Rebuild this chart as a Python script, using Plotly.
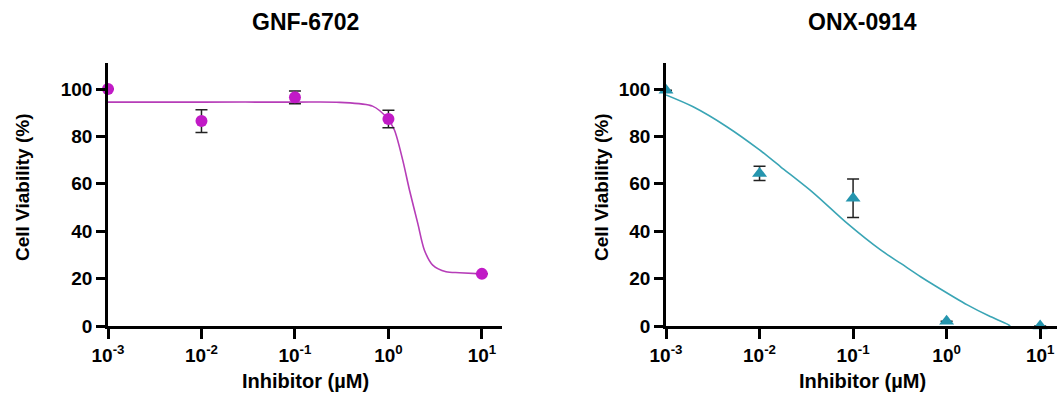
import plotly.graph_objects as go

# ---- data ----
conc = [0.001, 0.01, 0.1, 1, 10]
tick_text = ["10<sup>-3</sup>", "10<sup>-2</sup>", "10<sup>-1</sup>", "10<sup>0</sup>", "10<sup>1</sup>"]
y_ticks = [0, 20, 40, 60, 80, 100]

gnf_mean = [100, 86.5, 96.5, 87.4, 22.0]
gnf_err = [0, 4.8, 2.7, 3.7, 0]
onx_mean = [99.5, 64.4, 53.9, 2.0, 0.0]
onx_err = [0, 3.0, 8.1, 0, 0]

# fitted curves (log10 concentration, viability)
gnf_fit_logx = [-3, -2, -1, -0.52, -0.17, -0.01, 0.064, 0.153, 0.225, 0.314, 0.385, 0.474, 0.617, 0.76, 1.0]
gnf_fit_y = [94.5, 94.5, 94.5, 94.4, 92.8, 87.6, 82.7, 70.0, 57.4, 43.3, 32.0, 25.7, 22.9, 22.5, 22.0]
onx_fit_logx = [-3, -2.71, -2.35, -2.0, -1.775, -1.419, -1.062, -0.706, -0.49, -0.278, -0.136, 0.221, 0.45, 0.649, 0.68]
onx_fit_y = [97.5, 92.5, 84.1, 74.3, 67.2, 56.0, 43.3, 32.1, 26.4, 20.8, 17.3, 8.9, 4.3, 0.8, 0.0]

GNF_MARK = "#C11AC6"
GNF_LINE = "#B63DB8"
ONX_MARK = "#2595AE"
ONX_LINE = "#3AA5B5"
FONT = "Liberation Sans"
W, H = 1057, 397

fig = go.Figure()

fig.add_trace(go.Scatter(
    x=[10 ** v for v in gnf_fit_logx], y=gnf_fit_y, mode="lines",
    line=dict(color=GNF_LINE, width=1.6, shape="spline", smoothing=0.8),
    xaxis="x", yaxis="y", showlegend=False, cliponaxis=False))
fig.add_trace(go.Scatter(
    x=conc, y=gnf_mean, mode="markers",
    marker=dict(symbol="circle", size=12, color=GNF_MARK),
    error_y=dict(type="data", array=gnf_err, color="#222222", thickness=1.5, width=6),
    xaxis="x", yaxis="y", showlegend=False, cliponaxis=False))

fig.add_trace(go.Scatter(
    x=[10 ** v for v in onx_fit_logx], y=onx_fit_y, mode="lines",
    line=dict(color=ONX_LINE, width=1.6, shape="spline", smoothing=0.8),
    xaxis="x2", yaxis="y2", showlegend=False, cliponaxis=False))
fig.add_trace(go.Scatter(
    x=conc, y=onx_mean, mode="markers",
    marker=dict(symbol="triangle-up", size=13, color=ONX_MARK),
    error_y=dict(type="data", array=onx_err, color="#222222", thickness=1.5, width=6),
    xaxis="x2", yaxis="y2", showlegend=False, cliponaxis=False))

tickfont = dict(family=FONT, size=19, color="black", weight="bold")
xcommon = dict(type="log", tickvals=conc, ticktext=tick_text, showline=True, linecolor="black",
               linewidth=2.5, ticks="outside", ticklen=10, tickwidth=2.5, tickcolor="black",
               showgrid=False, zeroline=False, tickfont=tickfont, fixedrange=True, automargin=False)
ycommon = dict(range=[0, 111], tickvals=y_ticks, showline=True, linecolor="black",
               linewidth=2.5, ticks="outside", ticklen=9, tickwidth=2.5, tickcolor="black",
               showgrid=False, zeroline=False, tickfont=tickfont, fixedrange=True, automargin=False)

ydom = [1 - 326 / H, 1 - 63 / H]
fig.update_layout(
    width=W, height=H, margin=dict(l=0, r=0, t=0, b=0, autoexpand=False),
    plot_bgcolor="white", paper_bgcolor="white",
    xaxis=dict(domain=[108 / W, 502 / W], range=[-3, 1.215], anchor="y", **xcommon),
    yaxis=dict(domain=ydom, anchor="x", **ycommon),
    xaxis2=dict(domain=[666 / W, 1.0], range=[-3, 1.18], anchor="y2", **xcommon),
    yaxis2=dict(domain=ydom, anchor="x2", **ycommon),
)

ann = []
def txt(x, y, s, size, angle=0):
    ann.append(dict(x=x / W, y=1 - y / H, xref="paper", yref="paper", text=s, showarrow=False,
                    xanchor="center", yanchor="middle", textangle=angle,
                    font=dict(family=FONT, size=size, color="black", weight="bold")))

txt(305, 22, "GNF-6702", 23)
txt(862, 22, "ONX-0914", 23)
txt(305.5, 381, "Inhibitor (µM)", 20)
txt(862, 381, "Inhibitor (µM)", 20)
txt(23, 188, "Cell Viability (%)", 19, -90)
txt(602, 188, "Cell Viability (%)", 19, -90)
fig.update_layout(annotations=ann)

fig.write_html("out.html", config={"displayModeBar": False},
               post_script="document.body.style.margin='0';document.body.style.overflow='hidden';")
